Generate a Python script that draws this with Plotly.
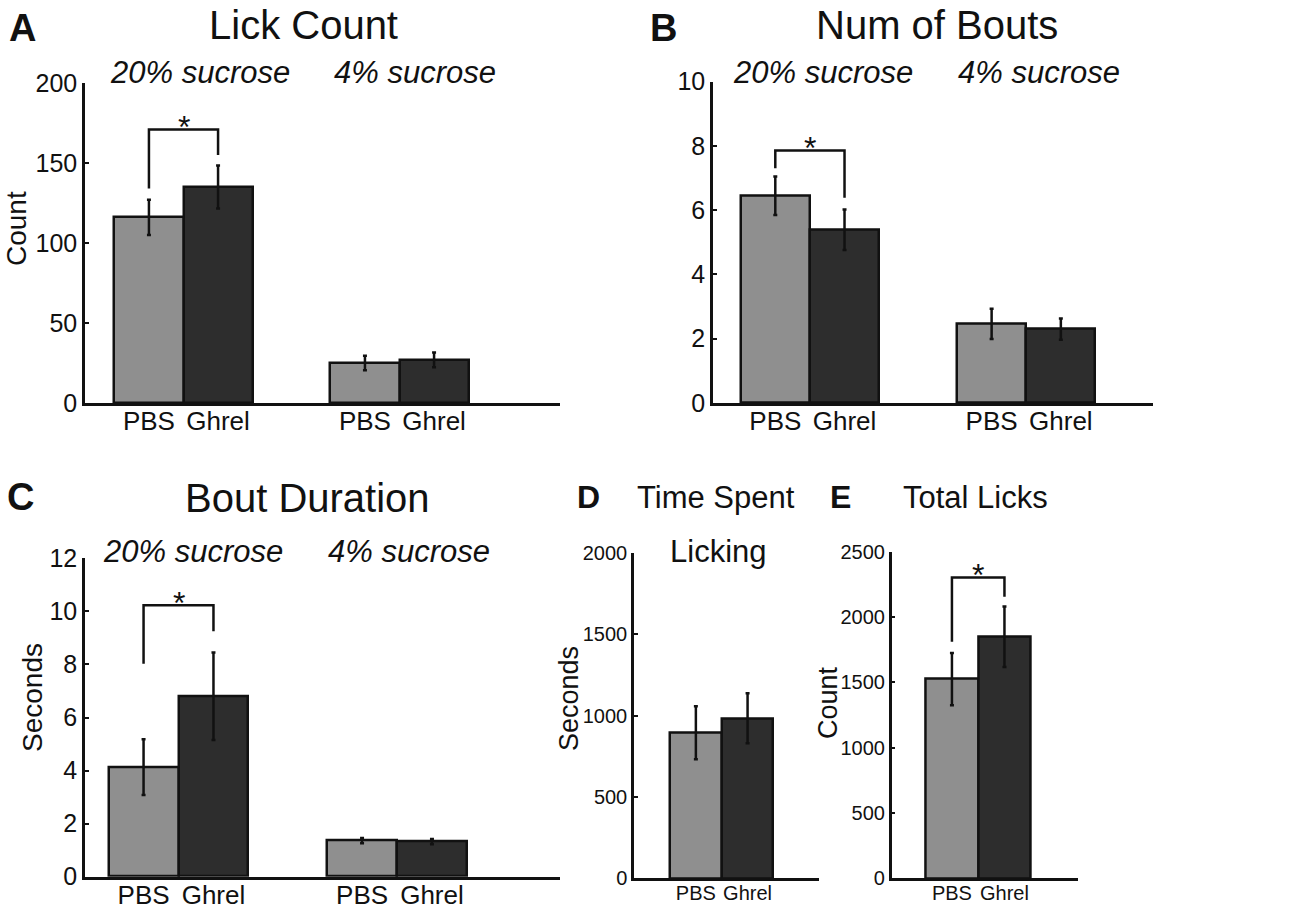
import plotly.graph_objects as go

W, H = 1300, 914

groups = ["20% sucrose", "4% sucrose"]
treatments = ["PBS", "Ghrel"]

# A: lick count
lick_pbs = [116, 25]
lick_pbs_err = [11, 4.6]
lick_ghrel = [135, 27]
lick_ghrel_err = [13.5, 4.6]
lick_sig = [134, 171, 155]  # left foot, top, right foot

# B: number of bouts
bouts_pbs = [6.45, 2.46]
bouts_pbs_err = [0.6, 0.47]
bouts_ghrel = [5.39, 2.30]
bouts_ghrel_err = [0.63, 0.33]
bouts_sig = [7.31, 7.86, 6.39]

# C: bout duration
dur_pbs = [4.13, 1.36]
dur_pbs_err = [1.05, 0.1]
dur_ghrel = [6.8, 1.32]
dur_ghrel_err = [1.65, 0.1]
dur_sig = [8.03, 10.23, 9.25]

# D: time spent licking
time_pbs = [894]
time_pbs_err = [163]
time_ghrel = [983]
time_ghrel_err = [153]

# E: total licks
total_pbs = [1525]
total_pbs_err = [200]
total_ghrel = [1849]
total_ghrel_err = [232]
total_sig = [1810, 2303, 2155]

PBS_COL = "#8f8f8f"
GHR_COL = "#2d2d2d"
FONT = "Liberation Sans, Arial, sans-serif"
BW = 0.32


def px(x):
    return x / W


def py(y):
    return 1 - y / H


panels = [
    dict(n="", xd=(85, 560), yd=(83, 403), xr=[-0.456, 1.743], yr=[0, 200], dt=50,
         pbs=lick_pbs, pe=lick_pbs_err, gh=lick_ghrel, ge=lick_ghrel_err, sig=lick_sig,
         fs=(26, 25), so=-7),
    dict(n="2", xd=(713, 1153), yd=(81.7, 403), xr=[-0.448, 1.586], yr=[0, 10], dt=2,
         pbs=bouts_pbs, pe=bouts_pbs_err, gh=bouts_ghrel, ge=bouts_ghrel_err, sig=bouts_sig,
         fs=(26, 25), so=-7),
    dict(n="3", xd=(85, 560), yd=(558.3, 876.7), xr=[-0.428, 1.746], yr=[0, 12], dt=2,
         pbs=dur_pbs, pe=dur_pbs_err, gh=dur_ghrel, ge=dur_ghrel_err, sig=dur_sig,
         fs=(26, 25), so=-7),
    dict(n="4", xd=(634, 819.3), yd=(552.7, 878.3), xr=[-0.543, 0.604], yr=[0, 2000], dt=500,
         pbs=time_pbs, pe=time_pbs_err, gh=time_ghrel, ge=time_ghrel_err, sig=None,
         fs=(20, 20), so=-5),
    dict(n="5", xd=(891.7, 1078), yd=(551.7, 878.3), xr=[-0.527, 0.608], yr=[0, 2500], dt=500,
         pbs=total_pbs, pe=total_pbs_err, gh=total_ghrel, ge=total_ghrel_err, sig=total_sig,
         fs=(20, 20), so=-5),
]

fig = go.Figure()
layout = {"annotations": []}

for p in panels:
    n = p["n"]
    k = len(p["pbs"])
    x_pbs = [i - BW / 2 for i in range(k)]
    x_gh = [i + BW / 2 for i in range(k)]
    for xs, vals, errs, col in [(x_pbs, p["pbs"], p["pe"], PBS_COL), (x_gh, p["gh"], p["ge"], GHR_COL)]:
        fig.add_trace(go.Bar(
            x=xs, y=vals, width=BW,
            marker=dict(color=col, line=dict(color="#111111", width=2.5)),
            error_y=dict(type="data", array=errs, color="#111111", thickness=2.5, width=2),
            xaxis="x" + n, yaxis="y" + n, showlegend=False,
        ))
    if p["sig"] is not None:
        lf, top, rf = p["sig"]
        fig.add_trace(go.Scatter(
            x=[x_pbs[0], x_pbs[0], x_gh[0], x_gh[0]], y=[lf, top, top, rf],
            mode="lines", line=dict(color="#111111", width=2.5),
            xaxis="x" + n, yaxis="y" + n, showlegend=False, hoverinfo="skip",
        ))
        layout["annotations"].append(dict(
            x=(x_pbs[0] + x_gh[0]) / 2, y=top, xref="x" + n, yref="y" + n,
            text="*", showarrow=False, yanchor="middle", yshift=2,
            font=dict(family=FONT, size=32, color="#111111"),
        ))

    layout["xaxis" + n] = dict(
        domain=[px(p["xd"][0]), px(p["xd"][1])], range=p["xr"], anchor="y" + n,
        showline=True, linecolor="#111111", linewidth=2.5, showgrid=False, zeroline=False,
        tickvals=x_pbs + x_gh, ticktext=[treatments[0]] * k + [treatments[1]] * k,
        ticks="", tickangle=0, automargin=False, ticklabelstandoff=p["so"],
        tickfont=dict(family=FONT, size=p["fs"][0], color="#111111"),
    )
    layout["yaxis" + n] = dict(
        domain=[py(p["yd"][1]), py(p["yd"][0])], range=p["yr"], anchor="x" + n,
        showline=True, linecolor="#111111", linewidth=2.5, showgrid=False, zeroline=False,
        dtick=p["dt"], ticks="inside", ticklen=4, tickwidth=2, tickcolor="#111111",
        automargin=False,
        tickfont=dict(family=FONT, size=p["fs"][1], color="#111111"),
    )


def note(text, x, y, size, bold=False, italic=False, angle=0):
    if bold:
        text = "<b>" + text + "</b>"
    if italic:
        text = "<i>" + text + "</i>"
    layout["annotations"].append(dict(
        text=text, x=px(x), y=py(y), xref="paper", yref="paper",
        showarrow=False, xanchor="center", yanchor="middle", textangle=angle,
        font=dict(family=FONT, size=size, color="#111111"),
    ))


# panel letters
note("A", 22, 28, 38, bold=True)
note("B", 663, 28, 38, bold=True)
note("C", 20, 497, 38, bold=True)
note("D", 588, 497, 32, bold=True)
note("E", 840, 497, 32, bold=True)

# titles
note("Lick Count", 303, 25, 40)
note("Num of Bouts", 937, 25, 40)
note("Bout Duration", 307, 498, 40)
note("Time Spent", 716, 497, 31)
note("Licking", 718, 551, 31)
note("Total Licks", 975, 497, 31)

# sucrose group labels
sub_pos = [((200, 415), 72), ((823, 1039), 72), ((193, 409), 551)]
for (x20, x4), yy in sub_pos:
    note(groups[0], x20, yy, 31, italic=True)
    note(groups[1], x4, yy, 31, italic=True)

# axis titles
note("Count", 16, 229, 28, angle=-90)
note("Seconds", 32, 698, 28, angle=-90)
note("Seconds", 569, 699, 27, angle=-90)
note("Count", 828, 703, 27, angle=-90)

fig.update_layout(
    width=W, height=H,
    margin=dict(l=0, r=0, t=0, b=0),
    paper_bgcolor="white", plot_bgcolor="white",
    bargap=0, barmode="overlay",
    **layout,
)

# drop the default body margin so the figure fills the window exactly
fig.write_html(
    "out.html",
    config={"displayModeBar": False},
    post_script="document.body.style.margin='0';",
)
